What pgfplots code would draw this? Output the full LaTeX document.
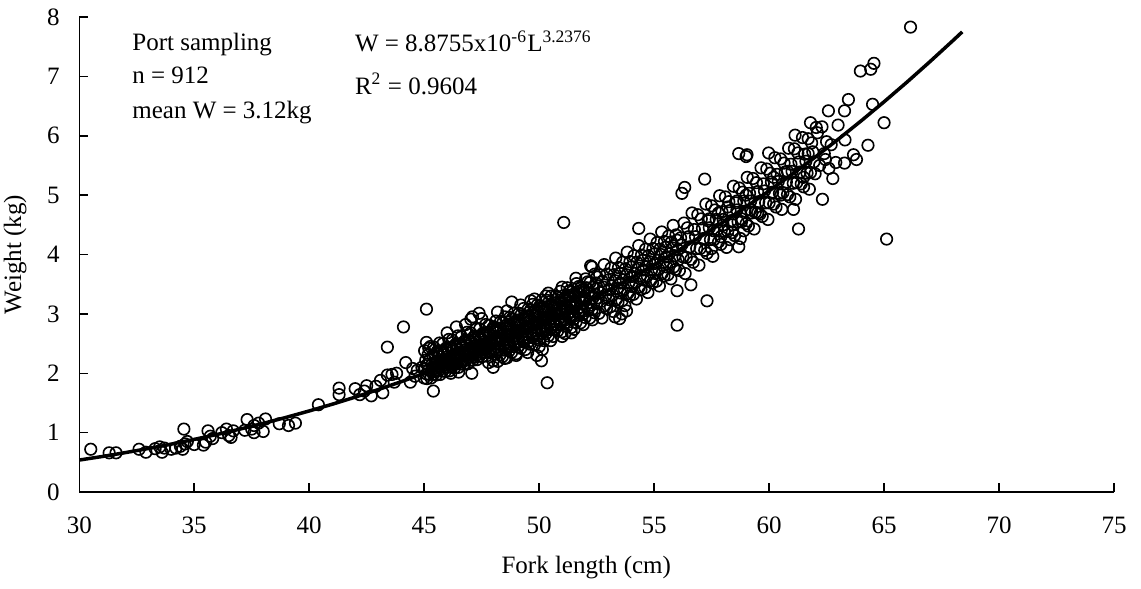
\documentclass[border=0pt]{standalone}
\usepackage{fontspec}
\setmainfont{Liberation Serif}
\usepackage{pgfplots}
\pgfplotsset{compat=1.18}
\begin{document}
\begin{tikzpicture}
\begin{axis}[
 scale only axis, width=413.9pt, height=190pt,
 xmin=30, xmax=75, ymin=0, ymax=8,
 axis x line=bottom, axis y line=left,
 axis line style={-, line width=0.6pt},
 xtick={30,35,...,75}, ytick={0,1,...,8},
 tick align=inside, major tick length=3.5pt,
 tick style={black, line width=0.6pt},
 /pgf/number format/assume math mode=true,
 xticklabel style={yshift=-6.6pt},
 yticklabel style={xshift=-4.3pt},
 xlabel={Fork length (cm)}, ylabel={Weight (kg)},
 every axis x label/.style={at={(axis description cs:0.49,-0.158)},anchor=center},
 every axis y label/.style={at={(axis description cs:-0.062,0.5)},anchor=center,rotate=90},
 clip=false,
]
\addplot[only marks, mark=o, mark size=2.3pt, mark options={line width=0.65pt, black}] coordinates {
(30.5,0.72)(31.3,0.66)(31.6,0.66)(32.6,0.72)(32.9,0.67)(33.3,0.73)(33.5,0.76)(33.6,0.67)(33.7,0.74)(34.0,0.72)
(34.2,0.74)(34.4,0.77)(34.5,0.72)(34.55,1.06)(34.6,0.81)(34.7,0.85)(35.0,0.80)(35.4,0.79)(35.5,0.84)(35.6,1.03)
(35.7,0.94)(35.8,0.90)(36.2,1.00)(36.4,1.06)(36.5,0.95)(36.6,0.92)(36.7,1.03)(37.2,1.04)(37.3,1.22)(37.5,1.06)
(37.6,1.12)(37.6,1.00)(37.8,1.16)(38.0,1.02)(38.1,1.23)(38.7,1.15)(39.1,1.12)(39.4,1.16)(40.4,1.47)(41.3,1.75)
(41.3,1.64)(42.0,1.74)(42.2,1.64)(42.4,1.70)(42.5,1.79)(42.7,1.62)(42.9,1.78)(43.1,1.88)(43.2,1.67)(43.4,1.97)
(43.4,2.44)(43.6,1.98)(43.7,1.85)(43.8,2.00)(44.1,2.78)(44.2,2.18)(44.4,1.85)(44.5,2.08)(44.7,2.05)(44.6,1.95)(44.9,2.10)
(45.4,1.70)(45.1,3.08)(45.1,2.52)(45.2,2.42)(50.35,1.84)(50.1,2.21)(51.07,4.54)(46.4,2.78)(47.1,2.95)(46.0,2.68)
(47.39,3.01)(48.19,3.03)(48.81,3.20)(49.64,3.22)(50.29,3.30)(47.03,2.91)(46.16,2.00)(47.07,2.00)(51.40,2.68)(50.14,2.40)
(52.24,3.81)(52.3,3.79)(49.9,2.30)(48.0,2.10)
(48.5,2.25)(49.0,2.30)(49.5,2.35)(50.0,2.45)(50.5,2.55)(51.0,2.62)(48.6,3.05)(49.2,3.15)(49.8,3.25)(50.4,3.35)
(51.0,3.45)(51.6,3.60)(47.5,2.92)(46.8,2.82)(47.8,2.18)(46.5,2.02)
(45.00,1.92)(45.04,2.08)(45.07,2.22)(45.02,2.38)
(45.10,1.99)(45.14,2.15)(45.17,2.31)(45.12,1.91)
(45.20,2.06)(45.24,2.22)(45.27,2.45)(45.22,1.98)
(45.30,1.92)(45.34,2.15)(45.37,2.30)(45.32,2.04)
(45.40,1.98)(45.44,2.14)(45.47,2.28)(45.42,2.44)
(45.50,2.05)(45.54,2.21)(45.57,2.37)(45.52,1.97)
(45.60,2.12)(45.64,2.28)(45.67,2.51)(45.62,2.04)
(45.70,1.98)(45.74,2.21)(45.77,2.36)(45.72,2.10)
(45.80,2.04)(45.84,2.20)(45.87,2.34)(45.82,2.50)
(45.90,2.11)(45.94,2.27)(45.97,2.43)(45.92,2.03)
(46.00,2.18)(46.04,2.34)(46.07,2.57)(46.02,2.10)
(46.10,2.04)(46.14,2.27)(46.17,2.42)(46.12,2.16)
(46.20,2.10)(46.24,2.26)(46.27,2.40)(46.22,2.56)
(46.30,2.17)(46.34,2.33)(46.37,2.49)(46.32,2.09)
(46.40,2.24)(46.44,2.40)(46.47,2.63)(46.42,2.16)
(46.50,2.10)(46.54,2.33)(46.57,2.48)(46.52,2.22)
(46.60,2.16)(46.64,2.32)(46.67,2.46)(46.62,2.62)
(46.70,2.23)(46.74,2.39)(46.77,2.55)(46.72,2.15)
(46.80,2.30)(46.84,2.46)(46.87,2.69)(46.82,2.22)
(46.90,2.16)(46.94,2.39)(46.97,2.54)(46.92,2.28)
(47.00,2.22)(47.04,2.38)(47.07,2.52)(47.02,2.68)
(47.10,2.30)(47.14,2.46)(47.17,2.62)(47.12,2.22)
(47.20,2.36)(47.24,2.52)(47.27,2.75)(47.22,2.28)
(47.30,2.23)(47.34,2.46)(47.37,2.61)(47.32,2.35)
(47.40,2.29)(47.44,2.45)(47.47,2.59)(47.42,2.75)
(47.50,2.36)(47.54,2.52)(47.57,2.68)(47.52,2.28)
(47.60,2.43)(47.64,2.59)(47.67,2.82)(47.62,2.35)
(47.70,2.29)(47.74,2.52)(47.77,2.67)(47.72,2.41)
(47.80,2.35)(47.84,2.51)(47.87,2.65)(47.82,2.81)
(47.90,2.43)(47.94,2.59)(47.97,2.75)(47.92,2.35)
(48.00,2.21)(48.04,2.41)(48.07,2.58)(48.02,2.78)
(48.10,2.32)(48.14,2.50)(48.17,2.68)(48.12,2.88)
(48.20,2.20)(48.24,2.40)(48.27,2.57)(48.22,2.76)
(48.30,2.31)(48.34,2.56)(48.37,2.67)(48.32,2.87)
(48.40,2.28)(48.44,2.48)(48.47,2.65)(48.42,2.85)
(48.50,2.39)(48.54,2.57)(48.57,2.75)(48.52,2.95)
(48.60,2.26)(48.64,2.46)(48.67,2.63)(48.62,2.82)
(48.70,2.38)(48.74,2.63)(48.77,2.74)(48.72,2.94)
(48.80,2.35)(48.84,2.55)(48.87,2.72)(48.82,2.92)
(48.90,2.45)(48.94,2.63)(48.97,2.81)(48.92,3.01)
(49.00,2.33)(49.04,2.53)(49.07,2.70)(49.02,2.89)
(49.10,2.45)(49.14,2.70)(49.17,2.81)(49.12,3.01)
(49.20,2.42)(49.24,2.62)(49.27,2.79)(49.22,2.99)
(49.30,2.53)(49.34,2.71)(49.37,2.89)(49.32,3.09)
(49.40,2.40)(49.44,2.60)(49.47,2.77)(49.42,2.96)
(49.50,2.52)(49.54,2.77)(49.57,2.88)(49.52,3.08)
(49.60,2.49)(49.64,2.69)(49.67,2.86)(49.62,3.06)
(49.70,2.60)(49.74,2.78)(49.77,2.96)(49.72,3.16)
(49.80,2.48)(49.84,2.68)(49.87,2.85)(49.82,3.04)
(49.90,2.59)(49.94,2.84)(49.97,2.95)(49.92,3.15)
(50.00,2.56)(50.04,2.76)(50.07,2.93)(50.02,3.13)
(50.10,2.67)(50.14,2.85)(50.17,3.03)(50.12,3.23)
(50.20,2.55)(50.24,2.75)(50.27,2.92)(50.22,3.11)
(50.30,2.67)(50.34,2.92)(50.37,3.03)(50.32,3.23)
(50.40,2.63)(50.44,2.83)(50.47,3.00)(50.42,3.20)
(50.50,2.74)(50.54,2.92)(50.57,3.10)(50.52,3.30)
(50.60,2.62)(50.64,2.82)(50.67,2.99)(50.62,3.18)
(50.70,2.74)(50.74,2.99)(50.77,3.10)(50.72,3.30)
(50.80,2.71)(50.84,2.91)(50.87,3.08)(50.82,3.28)
(50.90,2.82)(50.94,3.00)(50.97,3.18)(50.92,3.38)
(51.00,2.70)(51.04,2.92)(51.07,3.10)(51.02,3.30)
(51.10,2.84)(51.14,3.04)(51.17,3.22)(51.12,2.67)
(51.20,2.79)(51.24,3.10)(51.27,3.29)(51.22,3.44)
(51.30,2.94)(51.34,3.20)(51.37,3.04)(51.32,3.39)
(51.40,2.77)(51.44,2.99)(51.47,3.17)(51.42,3.37)
(51.50,2.91)(51.54,3.11)(51.57,3.29)(51.52,2.74)
(51.60,2.86)(51.64,3.17)(51.67,3.36)(51.62,3.51)
(51.70,3.01)(51.74,3.27)(51.77,3.11)(51.72,3.46)
(51.80,2.85)(51.84,3.07)(51.87,3.25)(51.82,3.45)
(51.90,2.99)(51.94,3.19)(51.97,3.37)(51.92,2.82)
(52.00,2.94)(52.04,3.25)(52.07,3.44)(52.02,3.59)
(52.10,3.09)(52.14,3.35)(52.17,3.19)(52.12,3.54)
(52.20,2.93)(52.24,3.15)(52.27,3.33)(52.22,3.53)
(52.30,3.07)(52.34,3.27)(52.37,3.45)(52.32,2.90)
(52.40,3.02)(52.44,3.33)(52.47,3.52)(52.42,3.67)
(52.50,3.17)(52.54,3.43)(52.57,3.27)(52.52,3.62)
(45.55,2.12)(45.58,2.35)(45.75,2.15)(45.78,2.38)(45.95,2.18)(45.98,2.41)(46.15,2.21)(46.18,2.44)
(46.35,2.24)(46.38,2.47)(46.55,2.27)(46.58,2.50)(46.75,2.30)(46.78,2.53)(46.95,2.33)(46.98,2.56)
(47.15,2.37)(47.18,2.60)(47.35,2.40)(47.38,2.63)(47.55,2.43)(47.58,2.66)(47.75,2.46)(47.78,2.69)
(47.95,2.50)(47.98,2.73)
(48.15,2.36)(48.18,2.56)(48.13,2.73)(48.35,2.39)(48.38,2.59)(48.33,2.76)(48.55,2.43)(48.58,2.63)(48.53,2.80)
(48.75,2.46)(48.78,2.66)(48.73,2.83)(48.95,2.49)(48.98,2.69)(48.93,2.86)(49.15,2.53)(49.18,2.73)(49.13,2.90)
(49.35,2.57)(49.38,2.77)(49.33,2.94)(49.55,2.60)(49.58,2.80)(49.53,2.97)(49.75,2.64)(49.78,2.84)(49.73,3.01)
(49.95,2.67)(49.98,2.87)(49.93,3.04)(50.15,2.71)(50.18,2.91)(50.13,3.08)(50.35,2.75)(50.38,2.95)(50.33,3.12)
(50.55,2.78)(50.58,2.98)(50.53,3.15)(50.75,2.82)(50.78,3.02)(50.73,3.19)(50.95,2.86)(50.98,3.06)(50.93,3.23)
(51.15,2.90)(51.18,3.10)(51.13,3.27)(51.35,2.94)(51.38,3.14)(51.33,3.31)(51.55,2.97)(51.58,3.17)(51.53,3.34)
(51.75,3.01)(51.78,3.21)(51.73,3.38)(51.95,3.05)(51.98,3.25)(51.93,3.42)
(52.60,3.01)(52.65,3.36)(52.63,3.66)
(52.70,3.21)(52.75,3.55)(52.73,2.93)
(52.80,3.45)(52.85,3.13)(52.83,3.83)
(52.90,3.32)(52.95,3.67)(52.93,3.09)
(53.00,3.57)(53.05,3.24)(53.03,3.41)
(53.10,3.12)(53.15,3.47)(53.13,3.77)
(53.20,3.32)(53.25,3.66)(53.23,3.04)
(53.30,3.56)(53.35,3.24)(53.33,3.94)
(53.40,3.43)(53.45,3.78)(53.43,3.20)
(53.50,3.68)(53.55,3.35)(53.53,3.52)
(53.60,3.22)(53.65,3.57)(53.63,3.87)
(53.70,3.42)(53.75,3.76)(53.73,3.14)
(53.80,3.66)(53.85,3.34)(53.83,4.04)
(53.90,3.53)(53.95,3.88)(53.93,3.30)
(54.00,3.79)(54.05,3.46)(54.03,3.63)
(54.10,3.33)(54.15,3.68)(54.13,3.98)
(54.20,3.53)(54.25,3.87)(54.23,3.25)
(54.30,3.77)(54.35,3.45)(54.33,4.15)
(54.40,3.64)(54.45,3.99)(54.43,3.41)
(54.50,3.90)(54.55,3.57)(54.53,3.74)
(54.60,3.44)(54.65,3.79)(54.63,4.09)
(54.70,3.64)(54.75,3.98)(54.73,3.36)
(54.80,3.88)(54.85,3.56)(54.83,4.26)
(54.90,3.75)(54.95,4.10)(54.93,3.52)
(55.00,4.01)(55.05,3.68)(55.03,3.85)
(55.10,3.55)(55.15,3.90)(55.13,4.20)
(55.20,3.75)(55.25,4.09)(55.23,3.47)
(55.30,4.00)(55.35,3.68)(55.33,4.38)
(55.40,3.87)(55.45,4.22)(55.43,3.64)
(55.50,4.12)(55.55,3.79)(55.53,3.96)
(55.60,3.66)(55.65,4.01)(55.63,4.31)
(55.70,3.87)(55.75,4.21)(55.73,3.59)
(55.80,4.11)(55.85,3.79)(55.83,4.49)
(55.90,3.98)(55.95,4.33)(55.93,3.75)
(56.00,4.24)(56.05,3.91)(56.03,4.08)
(53.3,2.95)(53.5,2.92)(53.6,3.00)(53.8,3.05)(54.33,4.44)(56.0,2.81)(56.6,3.49)(57.3,3.22)(56.0,3.39)(56.21,5.03)(56.33,5.13)(57.2,5.27)
(56.10,3.73)(56.15,4.28)(56.20,4.16)(56.25,3.96)(56.30,4.53)(56.35,3.68)(56.40,3.95)(56.45,4.45)(56.50,4.30)(56.55,4.13)
(56.60,3.92)(56.65,4.70)(56.70,3.87)(56.75,4.42)(56.80,4.30)(56.85,4.10)(56.90,4.67)(56.95,3.82)(57.00,4.10)(57.05,4.60)
(57.10,4.44)(57.15,4.27)(57.20,4.07)(57.25,4.85)(57.30,4.02)(57.35,4.57)(57.40,4.45)(57.45,4.25)(57.50,4.82)(57.55,3.97)
(57.60,4.25)(57.65,4.75)(57.70,4.59)(57.75,4.42)(57.80,4.21)(57.85,4.99)(57.90,4.17)(57.95,4.72)(58.00,4.59)(58.05,4.39)
(58.10,4.97)(58.15,4.12)(58.20,4.39)(58.25,4.89)(58.30,4.74)(58.35,4.57)(58.40,4.37)(58.45,5.15)(58.50,4.32)(58.55,4.87)
(58.60,4.75)(58.65,4.55)(58.70,5.12)(58.75,4.27)(58.80,4.55)(58.85,5.05)(58.90,4.90)(58.95,4.73)(59.00,4.52)(59.05,5.30)
(59.10,4.48)(59.15,5.03)(59.20,4.90)(59.25,4.70)(59.30,5.28)(59.35,4.43)(59.40,4.71)(59.45,5.21)(59.50,5.06)(59.55,4.89)
(59.60,4.68)(59.65,5.46)(59.70,4.64)(59.75,5.19)(59.80,5.07)(59.85,4.87)(59.90,5.44)(59.95,4.59)(60.00,4.87)(60.05,5.37)
(60.10,5.22)(60.15,5.05)(60.20,4.85)(60.25,5.63)(60.30,4.80)(60.35,5.35)(60.40,5.23)(60.45,5.03)(60.50,5.61)(60.55,4.76)
(60.60,5.04)(60.65,5.54)(60.70,5.39)(60.75,5.22)(60.80,5.01)(60.85,5.79)(60.90,4.97)(60.95,5.52)(61.00,5.40)(61.05,5.20)
(61.10,5.78)(61.15,4.93)(61.20,5.21)(61.25,5.71)(61.30,5.56)(61.35,5.39)(61.40,5.19)(61.45,5.97)(61.50,5.14)(61.55,5.69)
(61.60,5.57)(61.65,5.37)(61.70,5.95)(61.75,5.10)(61.80,5.38)(61.85,5.88)(61.90,5.73)(61.95,5.56)(62.00,5.36)(62.05,6.14)
(57.4,4.60)(57.6,4.40)(57.8,4.70)(58.0,4.50)(58.2,4.80)(58.4,4.50)(58.6,4.90)(58.8,4.60)(59.0,5.00)(59.2,4.75)
(57.5,4.10)(57.9,4.30)(58.3,4.25)(58.9,4.40)(59.5,4.70)(60.2,5.30)(60.5,5.00)(60.8,5.40)(61.5,5.30)(61.7,5.70)
(58.68,4.13)(61.28,4.43)(61.06,4.76)(62.32,4.93)(58.68,5.70)(59.04,5.68)(59.98,5.71)(61.13,6.01)(61.8,6.22)(62.77,5.28)(59.0,5.65)
(62.58,6.42)(63.28,6.42)(63.0,6.18)(63.67,5.68)(63.28,5.54)(63.3,5.93)(63.45,6.61)(64.5,6.53)(63.97,7.09)(64.42,7.12)
(64.56,7.22)(65.0,6.22)(64.3,5.84)(65.11,4.26)(66.15,7.83)(62.2,5.50)(62.4,5.70)(62.5,5.90)(62.1,6.05)(62.6,5.45)
(62.9,5.55)(62.3,6.15)(63.8,5.60)(62.7,5.85)(62.45,5.60)
};
\addplot[black, line width=1.4pt] coordinates {
(30,0.538)(31,0.598)(32,0.663)(33,0.732)(34,0.806)(35,0.886)(36,0.970)(37,1.060)(38,1.156)(39,1.257)
(40,1.365)(41,1.478)(42,1.598)(43,1.725)(44,1.858)(45,1.998)(46,2.146)(47,2.300)(48,2.463)(49,2.632)
(50,2.811)(51,2.997)(52,3.191)(53,3.394)(54,3.606)(55,3.826)(56,4.056)(57,4.295)(58,4.544)(59,4.803)
(60,5.071)(61,5.350)(62,5.639)(63,5.939)(64,6.250)(65,6.572)(66,6.905)(67,7.250)(68,7.605)(68.4,7.75)
};
\node[anchor=base west, inner sep=0] at (axis cs:32.29,7.432) {Port sampling};
\node[anchor=base west, inner sep=0] at (axis cs:32.29,6.883) {n = 912};
\node[anchor=base west, inner sep=0] at (axis cs:32.29,6.294) {mean W = 3.12kg};
\node[anchor=base west, inner sep=0] at (axis cs:41.97,7.416) {W = 8.8755x10\textsuperscript{-6}L\textsuperscript{3.2376}};
\node[anchor=base west, inner sep=0] at (axis cs:41.97,6.703) {R\textsuperscript{2} = 0.9604};
\end{axis}
\pgfresetboundingbox
\path[use as bounding box] (-31.7pt,-38.4pt) rectangle (424.7pt,196.8pt);
\end{tikzpicture}
\end{document}
